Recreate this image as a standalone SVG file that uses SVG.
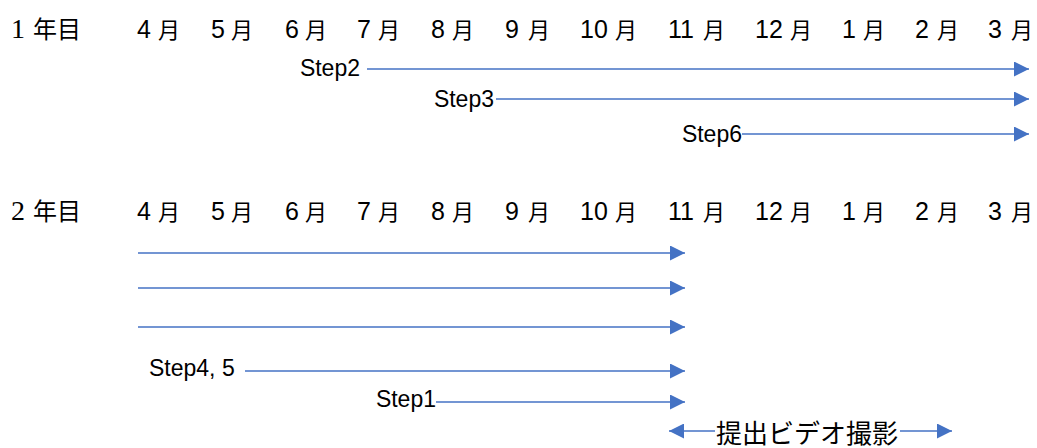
<svg xmlns="http://www.w3.org/2000/svg" width="1037" height="448" viewBox="0 0 1037 448">
<style>
.d{font-family:"Liberation Sans",Arial,sans-serif;font-size:25px;fill:#000}
.k{font-family:"Noto Sans CJK JP",sans-serif;font-size:22px;fill:#000}
.y{font-family:"Noto Sans CJK JP",sans-serif;font-size:24px;fill:#000}
.s{font-family:"Liberation Serif","Noto Sans CJK JP",serif;font-size:28px;fill:#000}
.lbl{font-family:"Liberation Sans",Arial,sans-serif;font-size:23px;fill:#000}
.v{font-family:"Noto Sans CJK JP",sans-serif;font-size:26px;fill:#000}
.c{stroke:#4472C4;stroke-width:1.5;fill:none;marker-end:url(#ah)}
</style>
<defs>
<marker id="ah" markerUnits="userSpaceOnUse" markerWidth="15" markerHeight="15" refX="15" refY="7.5" orient="auto">
<path d="M0,0 L15,7.5 L0,15 Z" fill="#4472C4"/>
</marker>
</defs>
<rect width="1037" height="448" fill="#fff"/>
<g id="year1-header">
<text y="38"><tspan class="s" x="11">1</tspan><tspan class="y" x="33">年目</tspan></text>
<text y="38"><tspan class="d" x="137">4</tspan><tspan class="k" x="158">月</tspan></text>
<text y="38"><tspan class="d" x="211">5</tspan><tspan class="k" x="231">月</tspan></text>
<text y="38"><tspan class="d" x="285">6</tspan><tspan class="k" x="305">月</tspan></text>
<text y="38"><tspan class="d" x="357">7</tspan><tspan class="k" x="378">月</tspan></text>
<text y="38"><tspan class="d" x="431">8</tspan><tspan class="k" x="452">月</tspan></text>
<text y="38"><tspan class="d" x="505">9</tspan><tspan class="k" x="528">月</tspan></text>
<text y="38"><tspan class="d" x="580">10</tspan><tspan class="k" x="615">月</tspan></text>
<text y="38"><tspan class="d" x="668">11</tspan><tspan class="k" x="703">月</tspan></text>
<text y="38"><tspan class="d" x="755">12</tspan><tspan class="k" x="790">月</tspan></text>
<text y="38"><tspan class="d" x="842">1</tspan><tspan class="k" x="863">月</tspan></text>
<text y="38"><tspan class="d" x="915">2</tspan><tspan class="k" x="937">月</tspan></text>
<text y="38"><tspan class="d" x="988">3</tspan><tspan class="k" x="1011">月</tspan></text>
</g>
<g id="year2-header">
<text y="220"><tspan class="s" x="11">2</tspan><tspan class="y" x="33">年目</tspan></text>
<text y="220"><tspan class="d" x="137">4</tspan><tspan class="k" x="158">月</tspan></text>
<text y="220"><tspan class="d" x="211">5</tspan><tspan class="k" x="231">月</tspan></text>
<text y="220"><tspan class="d" x="285">6</tspan><tspan class="k" x="305">月</tspan></text>
<text y="220"><tspan class="d" x="357">7</tspan><tspan class="k" x="378">月</tspan></text>
<text y="220"><tspan class="d" x="431">8</tspan><tspan class="k" x="452">月</tspan></text>
<text y="220"><tspan class="d" x="505">9</tspan><tspan class="k" x="528">月</tspan></text>
<text y="220"><tspan class="d" x="580">10</tspan><tspan class="k" x="615">月</tspan></text>
<text y="220"><tspan class="d" x="668">11</tspan><tspan class="k" x="703">月</tspan></text>
<text y="220"><tspan class="d" x="755">12</tspan><tspan class="k" x="790">月</tspan></text>
<text y="220"><tspan class="d" x="842">1</tspan><tspan class="k" x="863">月</tspan></text>
<text y="220"><tspan class="d" x="915">2</tspan><tspan class="k" x="937">月</tspan></text>
<text y="220"><tspan class="d" x="988">3</tspan><tspan class="k" x="1011">月</tspan></text>
</g>
<g id="step2"><text class="lbl" x="360" y="76" text-anchor="end">Step2</text></g>
<g id="step3"><text class="lbl" x="494" y="107" text-anchor="end">Step3</text></g>
<g id="step6"><text class="lbl" x="742" y="142" text-anchor="end">Step6</text></g>
<g id="step45"><text class="lbl" x="149" y="376">Step4, 5</text></g>
<g id="step1"><text class="lbl" x="436" y="407" text-anchor="end">Step1</text></g>
<g id="video"><text class="v" x="716" y="443">提出ビデオ撮影</text></g>
<g id="connectors">
<path class="c" d="M367,69 H1029"/>
<path class="c" d="M496,99 H1029"/>
<path class="c" d="M742,134 H1029"/>
<path class="c" d="M138,253 H685"/>
<path class="c" d="M138,288 H685"/>
<path class="c" d="M138,327 H685"/>
<path class="c" d="M245,371 H685"/>
<path class="c" d="M436,402 H685"/>
<path class="c" d="M715,431 H669"/>
<path class="c" d="M900,431 H952"/>
</g>
</svg>
